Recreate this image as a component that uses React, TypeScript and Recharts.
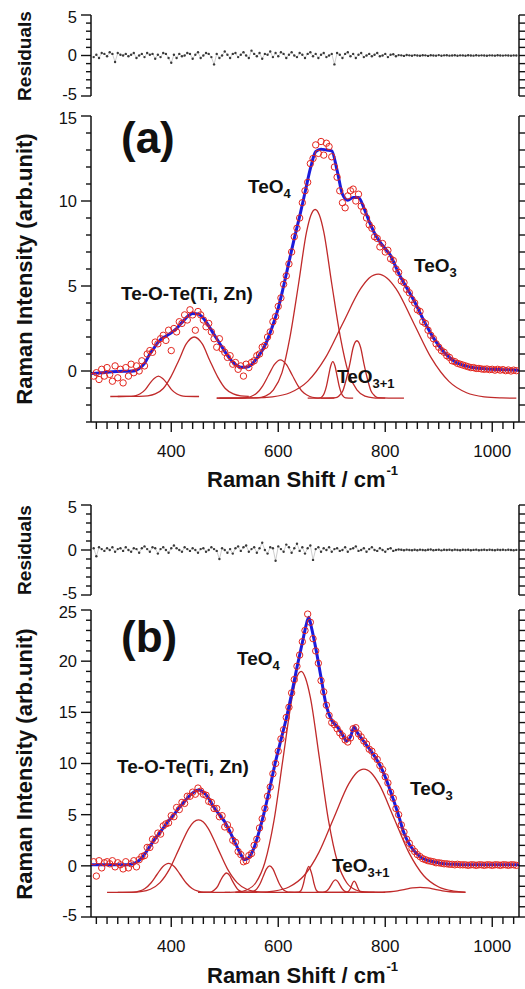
import React from 'react';
import { ComposedChart, Line, Scatter, XAxis, YAxis } from 'recharts';

// Raman shift grid for the measured spectra and residuals (cm-1)
const shift = [
  255, 260, 265, 270, 275, 280, 285, 290, 295, 300,
  305, 310, 315, 320, 325, 330, 335, 340, 345, 350,
  355, 360, 365, 370, 375, 380, 385, 390, 395, 400,
  405, 410, 415, 420, 425, 430, 435, 440, 445, 450,
  455, 460, 465, 470, 475, 480, 485, 490, 495, 500,
  505, 510, 515, 520, 525, 530, 535, 540, 545, 550,
  555, 560, 565, 570, 575, 580, 585, 590, 595, 600,
  605, 610, 615, 620, 625, 630, 635, 640, 645, 650,
  655, 660, 665, 670, 675, 680, 685, 690, 695, 700,
  705, 710, 715, 720, 725, 730, 735, 740, 745, 750,
  755, 760, 765, 770, 775, 780, 785, 790, 795, 800,
  805, 810, 815, 820, 825, 830, 835, 840, 845, 850,
  855, 860, 865, 870, 875, 880, 885, 890, 895, 900,
  905, 910, 915, 920, 925, 930, 935, 940, 945, 950,
  955, 960, 965, 970, 975, 980, 985, 990, 995, 1000,
  1005, 1010, 1015, 1020, 1025, 1030, 1035, 1040, 1045,
];

// (a) measured intensity
const measuredA = [
  -0.3, -0.1, -0.5, 0.1, -0.3, 0.2, -0.2, -0.6, 0.3, -0.4,
  0.1, -0.7, 0.2, -0.3, 0.4, -0.1, 0.3, 0.0, 0.6, 0.3,
  1.0, 1.2, 1.1, 1.7, 1.6, 1.9, 2.1, 1.8, 2.4, 1.2,
  2.5, 2.3, 2.9, 2.8, 3.3, 3.0, 3.6, 3.3, 2.4, 3.5,
  3.3, 3.0, 2.6, 2.8, 2.3, 1.9, 1.4, 1.9, 1.3, 1.1,
  0.8, 0.9, 0.4, 0.5, 0.1, 0.3, -0.3, 0.4, 0.2, 0.5,
  0.6, 0.9, 1.0, 1.4, 1.5, 2.0, 2.3, 2.9, 3.2, 3.8,
  4.3, 5.1, 5.6, 6.3, 7.0, 7.9, 8.4, 9.0, 9.9, 10.6,
  11.1, 12.2, 12.5, 13.3, 12.8, 13.5, 12.7, 13.4, 13.2, 12.6,
  12.0, 11.4, 10.6, 9.9, 9.6, 10.3, 10.6, 10.7, 10.0, 10.4,
  9.7, 9.4, 9.0, 8.6, 8.4, 7.9, 7.8, 7.3, 7.5, 7.0,
  7.1, 6.6, 6.5, 6.0, 5.8, 5.3, 5.2, 4.8, 4.6, 4.2,
  4.0, 3.6, 3.5, 2.9, 2.8, 2.4, 2.1, 1.9, 1.6, 1.4,
  1.2, 1.1, 0.9, 0.8, 0.6, 0.55, 0.45, 0.4, 0.35, 0.3,
  0.25, 0.2, 0.2, 0.15, 0.15, 0.12, 0.1, 0.12, 0.08, 0.1,
  0.05, 0.1, 0.05, 0.08, 0.02, 0.06, 0.0, 0.05, 0.02,
];

// (b) measured intensity
const measuredB = [
  0.4, -1.0, 0.5, -0.2, 0.3, 0.4, 0.2, 0.5, -0.1, 0.3,
  0.1, -0.3, 0.4, -0.2, 0.2, 0.5, -0.1, 0.6, 0.9, 1.0,
  1.8, 1.8, 2.6, 2.5, 3.2, 3.1, 3.9, 4.1, 4.2, 4.9,
  4.8, 5.7, 5.5, 6.2, 6.1, 6.8, 6.8, 7.2, 7.0, 7.6,
  7.3, 7.0, 6.9, 6.3, 6.2, 5.6, 5.6, 4.8, 4.9, 3.8,
  4.0, 3.5, 2.5, 2.3, 1.4, 1.1, 0.4, 0.5, 1.0, 1.2,
  2.0, 2.6, 3.7, 4.6, 5.6, 6.8, 7.7, 9.0, 10.0, 11.2,
  12.4, 13.3, 14.5, 15.5, 16.9, 18.2, 19.5, 20.6, 21.9, 23.0,
  24.6, 23.8, 22.2, 21.0, 19.8, 18.1, 17.0, 15.7, 14.7, 14.0,
  13.8, 13.4, 13.0, 12.7, 12.3, 12.1, 12.5, 13.4, 13.5, 12.9,
  12.6, 12.2, 11.9, 11.4, 11.2, 10.7, 10.4, 9.8, 9.4, 8.7,
  8.1, 7.2, 6.6, 5.6, 5.0, 4.0, 3.3, 2.6, 2.2, 1.7,
  1.4, 1.1, 0.9, 0.7, 0.6, 0.5, 0.45, 0.4, 0.3, 0.3,
  0.25, 0.2, 0.2, 0.15, 0.15, 0.1, 0.15, 0.1, 0.1, 0.1,
  0.05, 0.1, 0.1, 0.05, 0.1, 0.1, 0.05, 0.1, 0.1, 0.05,
  0.1, 0.1, 0.05, 0.1, 0.1, 0.05, 0.1, 0.1, 0.05,
];

const residualA = [
  -0.2, 0.1, -0.3, 0.3, 0.2, -0.1, 0.4, 0.2, -0.8, 0.3,
  0.1, 0.0, 0.2, -0.1, 0.1, 0.3, -0.3, 0.0, 0.2, -0.2,
  0.3, 0.1, 0.2, -0.4, 0.1, -0.2, 0.3, 0.2, -0.3, -0.9,
  0.1, -0.3, 0.2, -0.1, 0.0, 0.3, 0.2, -0.4, 0.1, 0.4,
  -0.3, 0.0, 0.3, 0.2, -0.2, -1.1, 0.2, -0.3, 0.0, 0.5,
  0.1, -0.3, 0.2, 0.3, -0.2, 0.1, 0.4, 0.0, -0.3, 0.6,
  0.2, -0.1, 0.3, -0.4, 0.2, 0.1, 0.5, -0.2, 0.3, -0.1,
  0.4, 0.2, -0.3, 0.1, 0.4, 0.0, -0.2, 0.3, 0.1, -0.3,
  0.2, 0.4, -0.1, 0.2, -0.3, 0.1, 0.3, -0.2, 0.0, 0.2,
  -1.1, 0.3, 0.1, -0.3, 0.2, 0.4, -0.1, 0.2, -0.3, 0.1,
  0.3, -0.2, 0.0, 0.2, -0.1, 0.1, 0.3, -0.1, 0.0, 0.2,
  -0.2, 0.1, 0.15, -0.1, 0.05, 0.02, -0.05, 0.06, 0.02, -0.04,
  0.05, 0.0, -0.03, 0.04, 0.02, -0.05, 0.03, 0.0, -0.02, 0.05,
  -0.03, 0.02, 0.04, -0.02, 0.0, 0.03, -0.04, 0.02, 0.01, -0.03,
  0.04, 0.0, -0.02, 0.03, -0.01, 0.02, 0.0, -0.03, 0.02, 0.01,
  -0.02, 0.03, 0.0, -0.01, 0.02, 0.0, -0.02, 0.01, 0.0,
];

const residualB = [
  0.2, -0.7, 0.3, 0.1, -0.1, 0.2, 0.0, 0.3, -0.2, 0.1,
  0.2, -0.1, 0.3, 0.0, -0.2, 0.2, 0.1, -0.3, 0.2, 0.4,
  0.1, -0.2, 0.3, 0.2, -0.4, 0.1, 0.3, 0.0, -0.3, 0.2,
  0.5, 0.2, 0.0, -0.2, 0.3, 0.1, -0.1, 0.2, 0.0, -0.3,
  0.1, 0.2, -0.2, 0.0, 0.3, 0.1, -0.1, -1.0, 0.2, 0.0,
  -0.3, 0.1, -0.4, 0.2, 0.4, -0.1, 0.3, 0.5, -0.2, 0.1,
  0.3, -0.3, 0.2, 0.8, 0.0, -0.4, 0.3, 0.2, -1.2, 0.4,
  0.1, -0.2, 0.6, 0.3, -0.3, 0.2, 0.7, -0.1, 0.3, -0.4,
  0.2, 0.5, -1.1, 0.1, 0.3, -0.2, 0.2, 0.0, 0.3, -0.2,
  0.1, 0.2, -0.1, 0.0, 0.3, -0.2, 0.1, 0.2, 0.4, -0.1,
  0.0, 0.2, -0.2, 0.1, 0.3, 0.0, -0.1, 0.2, 0.0, -0.2,
  0.1, 0.2, -0.1, 0.0, 0.05, 0.02, -0.03, 0.04, 0.0, -0.02,
  0.03, -0.02, 0.04, 0.0, -0.03, 0.02, 0.05, -0.02, 0.01, 0.03,
  -0.04, 0.02, 0.0, 0.03, -0.02, 0.04, 0.0, -0.03, 0.02, 0.0,
  0.03, -0.02, 0.01, 0.04, -0.03, 0.0, 0.02, -0.01, 0.03, 0.0,
  -0.02, 0.02, 0.0, 0.03, -0.01, 0.02, 0.0, -0.02, 0.01,
];

// fitted envelopes [shift, intensity]
const fitA = [
  [250, -0.15], [270, -0.1], [290, -0.05], [310, -0.02], [330, 0.0], [340, 0.15], [350, 0.45],
  [360, 1.0], [370, 1.45], [380, 1.85], [390, 2.05], [400, 2.25], [410, 2.5], [420, 2.85],
  [430, 3.2], [440, 3.38], [450, 3.35], [460, 3.1], [470, 2.65], [480, 2.15], [490, 1.65],
  [500, 1.15], [510, 0.7], [520, 0.38], [530, 0.22], [540, 0.22], [550, 0.38], [560, 0.75],
  [570, 1.2], [580, 1.85], [590, 2.7], [600, 3.7], [610, 5.0], [620, 6.4], [630, 7.8],
  [640, 9.1], [650, 10.5], [660, 11.9], [670, 12.9], [680, 13.05], [690, 13.0], [700, 12.95],
  [710, 11.8], [720, 10.4], [730, 10.05], [740, 10.2], [750, 10.2], [760, 9.6], [770, 8.8],
  [780, 8.1], [790, 7.6], [800, 7.2], [810, 6.8], [820, 6.1], [830, 5.45], [840, 4.9],
  [850, 4.35], [860, 3.75], [870, 3.1], [880, 2.5], [890, 1.95], [900, 1.5], [910, 1.1],
  [920, 0.8], [930, 0.55], [940, 0.4], [950, 0.3], [960, 0.22], [980, 0.15], [1000, 0.1],
  [1020, 0.08], [1050, 0.05],
];

const fitB = [
  [250, 0.1], [270, 0.1], [290, 0.1], [310, 0.1], [325, 0.15], [335, 0.35], [345, 0.8],
  [355, 1.5], [365, 2.3], [375, 3.0], [385, 3.7], [395, 4.4], [405, 5.0], [415, 5.7],
  [425, 6.3], [435, 6.9], [445, 7.3], [452, 7.4], [460, 7.2], [470, 6.6], [480, 5.7],
  [490, 5.0], [500, 4.3], [510, 3.3], [520, 2.2], [530, 1.1], [537, 0.6], [545, 0.8],
  [555, 1.8], [565, 3.5], [575, 5.5], [585, 7.8], [595, 10.2], [605, 12.3], [615, 14.4],
  [625, 16.8], [635, 19.4], [645, 21.8], [652, 23.5], [657, 24.3], [662, 23.3], [670, 21.3],
  [680, 18.4], [690, 15.6], [700, 14.2], [710, 13.6], [720, 12.8], [728, 12.2], [735, 12.6],
  [742, 13.6], [748, 13.0], [755, 12.5], [765, 11.8], [775, 11.1], [785, 10.3], [795, 9.3],
  [805, 8.0], [815, 6.5], [825, 4.9], [835, 3.2], [845, 2.1], [855, 1.4], [865, 0.9],
  [875, 0.6], [890, 0.4], [910, 0.2], [930, 0.15], [960, 0.1], [1000, 0.1], [1050, 0.1],
];

// deconvoluted bands, drawn on an offset baseline
const bandsA = [
  [[286, -1.5], [325, -1.49], [334, -1.45], [342, -1.34], [351, -1.11], [359, -0.77], [368, -0.44], [376, -0.3],
   [384, -0.44], [393, -0.77], [401, -1.11], [410, -1.34], [418, -1.45], [427, -1.49], [452, -1.5]],
  [[300, -1.5], [341, -1.49], [356, -1.46], [370, -1.35], [385, -1.03], [399, -0.36], [414, 0.62], [428, 1.59],
   [443, 2.0], [458, 1.59], [472, 0.62], [487, -0.36], [501, -1.03], [516, -1.35], [530, -1.46], [545, -1.49]],
  [[485, -1.6], [527, -1.595], [538, -1.575], [549, -1.5], [560, -1.3], [571, -0.87], [582, -0.235], [593, 0.386],
   [604, 0.65], [615, 0.386], [626, -0.235], [637, -0.87], [648, -1.3], [659, -1.5], [670, -1.575], [681, -1.595], [705, -1.6]],
  [[485, -1.6], [560, -1.576], [576, -1.477], [591, -1.113], [607, -0.098], [622, 2.004], [638, 5.132], [653, 8.196],
   [661, 9.16], [669, 9.5], [677, 9.16], [685, 8.196], [700, 5.132], [716, 2.004], [731, -0.098], [747, -1.113],
   [762, -1.477], [778, -1.576], [800, -1.6]],
  [[490, -1.6], [556, -1.584], [589, -1.519], [622, -1.28], [655, -0.612], [688, 0.77], [721, 2.827], [754, 4.842],
   [770, 5.47], [787, 5.7], [803, 5.47], [820, 4.842], [853, 2.827], [886, 0.77], [919, -0.612], [952, -1.28],
   [985, -1.519], [1018, -1.584], [1045, -1.6]],
  [[655, -1.6], [678, -1.576], [682, -1.506], [686, -1.309], [690, -0.902], [694, -0.296], [698, 0.297], [702, 0.55],
   [706, 0.297], [710, -0.296], [714, -0.902], [718, -1.309], [722, -1.506], [726, -1.576], [740, -1.6]],
  [[680, -1.6], [708, -1.562], [714, -1.452], [721, -1.143], [727, -0.503], [734, 0.45], [740, 1.383], [747, 1.78],
   [754, 1.383], [760, 0.45], [767, -0.503], [773, -1.143], [780, -1.452], [786, -1.562], [835, -1.6]],
];

const bandsB = [
  [[280, -2.6], [329, -2.568], [340, -2.475], [351, -2.214], [362, -1.675], [373, -0.871], [384, -0.085], [395, 0.25],
   [406, -0.085], [417, -0.871], [428, -1.675], [439, -2.214], [450, -2.475], [461, -2.568], [510, -2.6]],
  [[300, -2.6], [325, -2.584], [343, -2.521], [361, -2.288], [379, -1.639], [397, -0.295], [415, 1.706], [433, 3.666],
   [442, 4.28], [451, 4.5], [460, 4.28], [469, 3.666], [487, 1.706], [505, -0.295], [523, -1.639], [541, -2.288],
   [559, -2.521], [577, -2.584], [640, -2.6]],
  [[450, -2.6], [470, -2.579], [476, -2.517], [481, -2.343], [487, -1.983], [492, -1.448], [498, -0.923], [503, -0.7],
   [509, -0.923], [514, -1.448], [520, -1.983], [525, -2.343], [531, -2.517], [536, -2.579], [560, -2.6]],
  [[520, -2.6], [548, -2.571], [554, -2.486], [560, -2.248], [566, -1.756], [572, -1.023], [578, -0.305], [584, 0.0],
   [590, -0.305], [596, -1.023], [602, -1.756], [608, -2.248], [614, -2.486], [620, -2.571], [645, -2.6]],
  [[500, -2.6], [524, -2.552], [541, -2.36], [558, -1.652], [575, 0.323], [592, 4.414], [609, 10.5], [626, 16.462],
   [634, 18.33], [643, 19.0], [651, 18.33], [660, 16.462], [677, 10.5], [694, 4.414], [711, 0.323], [728, -1.652],
   [745, -2.36], [762, -2.552], [800, -2.6]],
  [[620, -2.6], [638, -2.57], [641, -2.49], [644, -2.255], [647, -1.77], [650, -1.05], [654, -0.35], [657, -0.05],
   [660, -0.35], [664, -1.05], [667, -1.77], [670, -2.255], [673, -2.49], [676, -2.57], [700, -2.6]],
  [[670, -2.6], [683, -2.586], [687, -2.546], [691, -2.434], [695, -2.201], [699, -1.854], [703, -1.515], [707, -1.37],
   [711, -1.515], [715, -1.854], [719, -2.201], [723, -2.434], [727, -2.546], [731, -2.586], [745, -2.6]],
  [[700, -2.6], [727, -2.588], [729.5, -2.552], [732, -2.451], [734.5, -2.243], [737, -1.933], [739.5, -1.629], [742, -1.5],
   [744.5, -1.629], [747, -1.933], [749.5, -2.243], [752, -2.451], [754.5, -2.552], [757, -2.588], [780, -2.6]],
  [[520, -2.6], [564, -2.574], [592, -2.466], [620, -2.071], [648, -0.97], [676, 1.313], [704, 4.708], [732, 8.034],
   [746, 9.08], [760, 9.45], [774, 9.08], [788, 8.034], [816, 4.708], [844, 1.313], [872, -0.97], [900, -2.071],
   [928, -2.466], [950, -2.56]],
  [[640, -2.6], [795, -2.578], [809, -2.532], [823, -2.438], [837, -2.297], [851, -2.159], [865, -2.1], [879, -2.159],
   [893, -2.297], [907, -2.438], [921, -2.532], [935, -2.578], [950, -2.6]],
];

const xTicks = [
  260, 280, 300, 320, 340, 360, 380, 400, 420, 440, 460, 480, 500, 520, 540, 560, 580, 600, 620, 640,
  660, 680, 700, 720, 740, 760, 780, 800, 820, 840, 860, 880, 900, 920, 940, 960, 980, 1000, 1020, 1040,
];
const xMajors = [400, 600, 800, 1000];
const resTicks = [-5, -4, -3, -2, -1, 0, 1, 2, 3, 4, 5];
const resMajors = [-5, 0, 5];
const aTicks = [-3, -2, -1, 0, 1, 2, 3, 4, 5, 6, 7, 8, 9, 10, 11, 12, 13, 14, 15];
const aMajors = [0, 5, 10, 15];
const bTicks = [-5, -4, -3, -2, -1, 0, 1, 2, 3, 4, 5, 6, 7, 8, 9, 10, 11, 12, 13, 14, 15, 16, 17, 18, 19, 20, 21, 22, 23, 24, 25];
const bMajors = [-5, 0, 5, 10, 15, 20, 25];

const FONT = '"Liberation Sans", Arial, sans-serif';
const INK = '#111';
const RED = '#e3261e';
const BAND = '#c02a2a';
const BLUE = '#1b1bdc';
const PLOT_LEFT = 91;
const PLOT_RIGHT = 519;

const pts = (xs: number[], ys: number[]) => xs.map((x, i) => ({ x, y: ys[i] }));
const pairs = (arr: number[][]) => arr.map(([x, y]) => ({ x, y }));

// labels at the panel edges are nudged inward a little so stacked panels don't collide
const leftTick = (majors: number[], domain: [number, number]) => (p: any) => {
  const v = p.payload.value;
  const major = majors.includes(v);
  const nudge = v === domain[0] ? -2 : v === domain[1] ? 2 : 0;
  return (
    <g>
      <line x1={p.x} x2={p.x - (major ? 10 : 5)} y1={p.y} y2={p.y} stroke={INK} strokeWidth={1.4} />
      {major && (
        <text x={p.x - 14} y={p.y + nudge} dy="0.36em" textAnchor="end" fontSize={16.5} fontFamily={FONT} fill={INK}>
          {v}
        </text>
      )}
    </g>
  );
};

const rightTick = (majors: number[]) => (p: any) => {
  const major = majors.includes(p.payload.value);
  return <line x1={p.x} x2={p.x + (major ? 10 : 6)} y1={p.y} y2={p.y} stroke={INK} strokeWidth={1.4} />;
};

const bottomTick = (labelDy: number) => (p: any) => {
  const v = p.payload.value;
  const major = xMajors.includes(v);
  return (
    <g>
      <line x1={p.x} x2={p.x} y1={p.y} y2={p.y + (major ? 10 : 7)} stroke={INK} strokeWidth={1.4} />
      {major && (
        <text x={p.x} y={p.y + labelDy} textAnchor="middle" fontSize={17} fontFamily={FONT} fill={INK}>
          {v}
        </text>
      )}
    </g>
  );
};

const ring = (p: any) => <circle cx={p.cx} cy={p.cy} r={3.2} fill="none" stroke={RED} strokeWidth={1} />;
const speck = (p: any) => <circle cx={p.cx} cy={p.cy} r={1.2} fill="#3a3a3a" />;

type PanelProps = {
  top: number;
  height: number;
  mTop: number;
  mBottom: number;
  domain: [number, number];
  yTicks: number[];
  yMajors: number[];
  showX?: boolean;
  labelDy?: number;
  children: React.ReactNode;
};

function Panel({ top, height, mTop, mBottom, domain, yTicks, yMajors, showX = false, labelDy = 35, children }: PanelProps) {
  const axisLine = { stroke: INK, strokeWidth: 1.5 };
  return (
    <div style={{ position: 'absolute', left: 0, top }}>
      <ComposedChart
        width={525}
        height={height}
        margin={{ top: mTop, bottom: showX ? 0 : mBottom, left: 0, right: 0 }}
      >
        <XAxis
          type="number"
          dataKey="x"
          domain={[250, 1050]}
          allowDataOverflow
          ticks={xTicks}
          interval={0}
          hide={!showX}
          height={mBottom}
          tickSize={0}
          tickMargin={0}
          tickLine={false}
          axisLine={axisLine}
          tick={bottomTick(labelDy)}
        />
        <YAxis
          yAxisId="l"
          type="number"
          dataKey="y"
          domain={domain}
          allowDataOverflow
          ticks={yTicks}
          interval={0}
          width={PLOT_LEFT}
          tickSize={0}
          tickMargin={0}
          tickLine={false}
          axisLine={axisLine}
          tick={leftTick(yMajors, domain)}
        />
        <YAxis
          yAxisId="r"
          orientation="right"
          type="number"
          dataKey="y"
          domain={domain}
          allowDataOverflow
          ticks={yTicks}
          interval={0}
          width={525 - PLOT_RIGHT}
          tickSize={0}
          tickMargin={0}
          tickLine={false}
          axisLine={axisLine}
          tick={rightTick(yMajors)}
        />
        {children}
      </ComposedChart>
    </div>
  );
}

const residualDots = (values: number[]) => [
  <Line
    key="trace"
    yAxisId="l"
    data={pts(shift, values)}
    dataKey="y"
    type="linear"
    stroke="#9a9a9a"
    strokeWidth={0.5}
    dot={false}
    isAnimationActive={false}
  />,
  <Scatter key="dots" yAxisId="l" data={pts(shift, values)} shape={speck} isAnimationActive={false} />,
];

const spectrum = (measured: number[], fit: number[][], bands: number[][][]) => [
  ...bands.map((b, i) => (
    <Line
      key={`band${i}`}
      yAxisId="l"
      data={pairs(b)}
      dataKey="y"
      type="monotone"
      stroke={BAND}
      strokeWidth={1.3}
      dot={false}
      isAnimationActive={false}
    />
  )),
  <Scatter key="meas" yAxisId="l" data={pts(shift, measured)} shape={ring} isAnimationActive={false} />,
  <Line
    key="fit"
    yAxisId="l"
    data={pairs(fit)}
    dataKey="y"
    type="monotone"
    stroke={BLUE}
    strokeWidth={3}
    dot={false}
    isAnimationActive={false}
  />,
];

export default function App() {
  return (
    <div style={{ position: 'absolute', left: 0, top: 0, width: 525, height: 989, overflow: 'hidden', background: '#fff' }}>
      <Panel top={0} height={110} mTop={15} mBottom={14} domain={[-5, 5]} yTicks={resTicks} yMajors={resMajors}>
        {residualDots(residualA)}
      </Panel>
      <Panel top={100} height={400} mTop={16} mBottom={78} domain={[-3, 15]} yTicks={aTicks} yMajors={aMajors} showX labelDy={35}>
        {spectrum(measuredA, fitA, bandsA)}
      </Panel>
      <Panel top={490} height={120} mTop={15} mBottom={15} domain={[-5, 5]} yTicks={resTicks} yMajors={resMajors}>
        {residualDots(residualB)}
      </Panel>
      <Panel top={595} height={394} mTop={15} mBottom={72} domain={[-5, 25]} yTicks={bTicks} yMajors={bMajors} showX labelDy={35}>
        {spectrum(measuredB, fitB, bandsB)}
      </Panel>

      <svg
        width={525}
        height={989}
        style={{ position: 'absolute', left: 0, top: 0, pointerEvents: 'none' }}
        fontFamily={FONT}
        fontWeight="bold"
        fill={INK}
      >
        <text transform="translate(31,56) rotate(-90)" textAnchor="middle" fontSize={19}>Residuals</text>
        <text transform="translate(32,269) rotate(-90)" textAnchor="middle" fontSize={22}>Raman Intensity (arb.unit)</text>
        <text x={121} y={153} fontSize={44}>(a)</text>
        <text x={248} y={193} fontSize={19}>TeO<tspan dy={5} fontSize={13}>4</tspan></text>
        <text x={121} y={300} fontSize={19}>Te-O-Te(Ti, Zn)</text>
        <text x={414} y={272} fontSize={19}>TeO<tspan dy={5} fontSize={13}>3</tspan></text>
        <text x={337} y={383} fontSize={19}>TeO<tspan dy={5} fontSize={13}>3+1</tspan></text>
        <text x={207} y={487} fontSize={22}>Raman Shift / cm<tspan dx={1} dy={-12} fontSize={13}>-1</tspan></text>

        <text transform="translate(31,550) rotate(-90)" textAnchor="middle" fontSize={19}>Residuals</text>
        <text transform="translate(32,764) rotate(-90)" textAnchor="middle" fontSize={22}>Raman Intensity (arb.unit)</text>
        <text x={121} y={652} fontSize={44}>(b)</text>
        <text x={237} y={665} fontSize={19}>TeO<tspan dy={5} fontSize={13}>4</tspan></text>
        <text x={117} y={773} fontSize={19}>Te-O-Te(Ti, Zn)</text>
        <text x={410} y={795} fontSize={19}>TeO<tspan dy={5} fontSize={13}>3</tspan></text>
        <text x={332} y={872} fontSize={19}>TeO<tspan dy={5} fontSize={13}>3+1</tspan></text>
        <text x={207} y={983} fontSize={22}>Raman Shift / cm<tspan dx={1} dy={-12} fontSize={13}>-1</tspan></text>
      </svg>
    </div>
  );
}
